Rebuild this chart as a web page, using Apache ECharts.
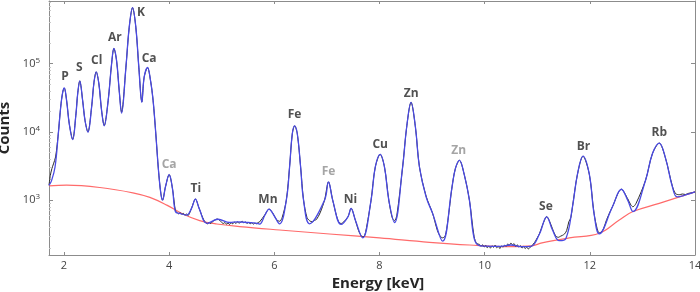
<!DOCTYPE html>
<html>
<head>
<meta charset="utf-8">
<script src="https://cdn.jsdelivr.net/npm/echarts@6/dist/echarts.min.js"></script>
<style>
  html, body { margin: 0; padding: 0; background: #fff; }
  #chart { width: 700px; height: 292px; }
</style>
</head>
<body>
<div id="chart"></div>
<script>
// axis range and ticks
const energyMin = 1.715;
const energyMax = 14;
const countsMin = 157;
const countsMax = 830000;
const xTicks = [2, 4, 6, 8, 10, 12, 14];
const yMinorTicks = [200, 300, 400, 500, 600, 700, 800, 900,
  2000, 3000, 4000, 5000, 6000, 7000, 8000, 9000,
  20000, 30000, 40000, 50000, 60000, 70000, 80000, 90000,
  200000, 300000, 400000, 500000, 600000, 700000, 800000];

// fitted spectrum [energy keV, counts]
const fitCurve = [
  [1.715, 1650], [1.76, 1900], [1.83, 3060], [1.892, 9400], [1.937, 23000], [1.975, 38000], [2.005, 44000],
  [2.05, 28800], [2.10, 13200], [2.165, 7700], [2.228, 18400], [2.26, 36000], [2.30, 56000], [2.355, 28800],
  [2.40, 14700], [2.455, 9900], [2.525, 23000], [2.57, 53000], [2.613, 76000], [2.664, 50500], [2.715, 20600],
  [2.765, 12300], [2.84, 28800], [2.905, 99000], [2.949, 167000], [3.0, 111000], [3.05, 40400], [3.095, 18800],
  [3.177, 87000], [3.24, 338000], [3.304, 664000], [3.367, 338000], [3.424, 87000], [3.481, 27200], [3.524, 63000],
  [3.589, 88000], [3.646, 56500], [3.695, 28800], [3.746, 9400], [3.797, 2740], [3.842, 1250], [3.874, 1000],
  [3.93, 1570], [4.0, 2370], [4.063, 1480], [4.12, 675], [4.20, 640], [4.33, 604], [4.425, 757], [4.50, 1035],
  [4.57, 757], [4.72, 457], [4.93, 525], [5.15, 470], [5.3, 480], [5.5, 470], [5.65, 460], [5.72, 445],
  [5.82, 600], [5.90, 740], [5.98, 620], [6.10, 450], [6.228, 1000], [6.29, 3060], [6.342, 9400], [6.386, 12300],
  [6.437, 9400], [6.50, 3060], [6.556, 1000], [6.67, 450], [6.955, 1000], [7.03, 1850], [7.11, 1000], [7.27, 440],
  [7.40, 570], [7.46, 757], [7.54, 511], [7.68, 280], [7.84, 1000], [7.92, 3060], [8.013, 4700], [8.095, 3060],
  [8.177, 1000], [8.285, 470], [8.44, 3060], [8.517, 11800], [8.60, 27200], [8.683, 11800], [8.76, 3060],
  [8.886, 1117], [9.01, 640], [9.2, 250], [9.38, 1570], [9.443, 2900], [9.52, 3840], [9.61, 2400], [9.71, 1000],
  [9.80, 275], [9.90, 215], [10.0, 212], [10.3, 210], [10.5, 220], [10.7, 208], [10.88, 210], [11.04, 317],
  [11.18, 570], [11.29, 365], [11.42, 255], [11.545, 275], [11.67, 798], [11.765, 2400], [11.87, 4430],
  [11.99, 2400], [12.08, 640], [12.18, 320], [12.43, 798], [12.60, 1445], [12.72, 1000], [12.82, 680],
  [13.06, 1960], [13.19, 4800], [13.32, 6870], [13.44, 4100], [13.57, 1570], [13.66, 1117], [13.82, 1190], [14.0, 1320]
];

// measured spectrum [energy keV, counts]
const measuredCurve = [
  [1.715, 1650], [1.74, 2300], [1.77, 2900], [1.80, 3400], [1.84, 4300], [1.87, 6500], [1.90, 11000], [1.937, 23000],
  [1.975, 38000], [2.005, 44000], [2.05, 28800], [2.10, 13200], [2.165, 7800], [2.228, 18400], [2.26, 36000],
  [2.30, 56000], [2.355, 28800], [2.40, 14700], [2.455, 10000], [2.525, 23000], [2.57, 53000], [2.613, 76000],
  [2.664, 50500], [2.715, 20600], [2.765, 12400], [2.84, 28800], [2.905, 99000], [2.949, 167000], [3.0, 111000],
  [3.05, 40400], [3.095, 19500], [3.177, 87000], [3.24, 338000], [3.304, 664000], [3.367, 338000], [3.424, 87000],
  [3.481, 27500], [3.524, 63000], [3.589, 88000], [3.646, 56500], [3.695, 28800], [3.746, 9400], [3.797, 2740],
  [3.842, 1250], [3.874, 1000], [3.93, 1570], [4.0, 2370], [4.063, 1480], [4.12, 690], [4.15, 660], [4.18, 630],
  [4.21, 655], [4.24, 620], [4.27, 640], [4.30, 600], [4.33, 625], [4.36, 595], [4.39, 650], [4.425, 760],
  [4.50, 1035], [4.57, 757], [4.62, 600], [4.66, 510], [4.70, 465], [4.73, 450], [4.76, 470], [4.79, 455],
  [4.82, 480], [4.85, 500], [4.88, 515], [4.91, 530], [4.94, 520], [4.97, 500], [5.00, 470], [5.03, 455],
  [5.06, 470], [5.09, 445], [5.12, 460], [5.15, 440], [5.18, 465], [5.21, 450], [5.24, 475], [5.27, 455],
  [5.30, 480], [5.33, 460], [5.36, 475], [5.39, 490], [5.42, 465], [5.45, 480], [5.48, 455], [5.51, 470],
  [5.54, 450], [5.57, 465], [5.60, 445], [5.63, 460], [5.66, 450], [5.69, 470], [5.72, 480], [5.82, 610],
  [5.90, 740], [5.98, 630], [6.04, 520], [6.10, 490], [6.15, 560], [6.228, 1000], [6.29, 3060], [6.342, 9400],
  [6.386, 12300], [6.437, 9400], [6.50, 3060], [6.556, 1000], [6.62, 560], [6.67, 500], [6.72, 480], [6.76, 505],
  [6.80, 520], [6.87, 650], [6.955, 1000], [7.03, 1850], [7.11, 1000], [7.18, 600], [7.23, 470], [7.27, 455],
  [7.32, 480], [7.40, 570], [7.46, 757], [7.54, 511], [7.60, 360], [7.65, 300], [7.68, 290], [7.72, 305],
  [7.78, 520], [7.84, 1000], [7.92, 3060], [8.013, 4700], [8.095, 3060], [8.177, 1000], [8.24, 560], [8.285, 500],
  [8.33, 600], [8.44, 3060], [8.517, 11800], [8.60, 27200], [8.683, 11800], [8.76, 3060], [8.886, 1150],
  [9.01, 640], [9.1, 360], [9.15, 300], [9.2, 280], [9.25, 300], [9.30, 500], [9.38, 1570], [9.443, 2900],
  [9.52, 3840], [9.61, 2400], [9.71, 1000], [9.80, 290], [9.85, 230], [9.90, 225], [9.93, 210], [9.96, 222],
  [9.99, 205], [10.02, 218], [10.05, 200], [10.08, 212], [10.11, 198], [10.14, 215], [10.17, 203], [10.20, 220],
  [10.23, 200], [10.26, 210], [10.29, 195], [10.32, 212], [10.35, 205], [10.38, 218], [10.41, 210], [10.44, 228],
  [10.47, 220], [10.50, 235], [10.53, 222], [10.56, 230], [10.59, 210], [10.62, 222], [10.65, 205], [10.68, 215],
  [10.71, 198], [10.74, 210], [10.77, 195], [10.80, 205], [10.83, 192], [10.86, 203], [10.89, 210], [10.92, 225],
  [10.95, 240], [11.0, 280], [11.04, 320], [11.08, 390], [11.12, 470], [11.18, 575], [11.23, 500], [11.29, 380],
  [11.35, 300], [11.40, 285], [11.44, 295], [11.48, 305], [11.52, 320], [11.56, 360], [11.60, 480], [11.64, 560],
  [11.67, 800], [11.765, 2400], [11.87, 4430], [11.99, 2400], [12.08, 640], [12.14, 380], [12.18, 330],
  [12.22, 345], [12.26, 380], [12.32, 520], [12.43, 800], [12.60, 1445], [12.72, 1050], [12.78, 850], [12.82, 800],
  [12.88, 900], [13.06, 1960], [13.19, 4800], [13.32, 6870], [13.44, 4100], [13.57, 1600], [13.63, 1250],
  [13.70, 1200], [13.76, 1230], [13.82, 1210], [13.88, 1260], [13.94, 1280], [14.0, 1320]
];

// background [energy keV, counts]
const backgroundCurve = [
  [1.715, 1620], [2.05, 1655], [2.683, 1531], [3.31, 1280], [3.633, 1096], [3.955, 845], [4.26, 625], [4.58, 501],
  [4.905, 447], [5.34, 410], [6.10, 365], [7.05, 319], [8.0, 279], [8.95, 241], [9.71, 220], [10.47, 208],
  [10.89, 213], [11.09, 236], [11.61, 279], [12.18, 327], [12.56, 511], [12.81, 675], [13.32, 896], [14.0, 1320]
];

// element labels
const peakNames = ['P', 'S', 'Cl', 'Ar', 'K', 'Ca', 'Ca', 'Ti', 'Mn', 'Fe', 'Fe', 'Ni', 'Cu', 'Zn', 'Zn', 'Se', 'Br', 'Rb'];
const peakEnergies = [2.019, 2.29, 2.621, 2.968, 3.462, 3.619, 4.0, 4.506, 5.879, 6.386, 7.031, 7.449, 8.013, 8.601, 9.505, 11.164, 11.878, 13.32];
const peakLabelCounts = [64600, 88300, 110600, 242000, 561000, 117000, 3360, 1480, 1023, 18000, 2590, 1023, 6580, 36100, 5370, 798, 6140, 9720];
const peakIsBeta = [false, false, false, false, false, false, true, false, false, false, true, false, false, false, true, false, false, false];

const frameColor = '#8c8c8c';
const labelFont = 'Open Sans';

const labelData = peakNames.map((name, i) => ({
  name,
  value: [peakEnergies[i], peakLabelCounts[i]],
  label: { color: peakIsBeta[i] ? '#8e8e8e' : '#262626' }
}));

const chart = echarts.init(document.getElementById('chart'), null, { renderer: 'canvas' });

const option = {
  animation: false,
  grid: { left: 49, right: 5, top: 1, bottom: 37, containLabel: false, outerBoundsMode: 'none' },
  xAxis: [
    {
      type: 'value',
      min: energyMin,
      max: energyMax,
      name: 'Energy [keV]',
      nameLocation: 'middle',
      nameGap: 14,
      nameTextStyle: { fontFamily: labelFont, fontWeight: 'bold', fontSize: 15, color: '#262626', padding: [0, 0, 0, 12] },
      axisLine: { show: true, lineStyle: { color: frameColor, width: 1 } },
      axisTick: { show: true, inside: true, length: 3, lineStyle: { color: frameColor }, customValues: xTicks },
      axisLabel: { margin: 5, fontFamily: labelFont, fontSize: 11, color: '#444', customValues: xTicks },
      splitLine: { show: false }
    },
    {
      type: 'value',
      position: 'top',
      min: energyMin,
      max: energyMax,
      axisLine: { show: true, lineStyle: { color: frameColor, width: 1 } },
      axisTick: { show: true, inside: true, length: 3, lineStyle: { color: frameColor }, customValues: xTicks },
      axisLabel: { show: false },
      splitLine: { show: false }
    }
  ],
  yAxis: [
    {
      type: 'log',
      logBase: 10,
      min: countsMin,
      max: countsMax,
      position: 'left',
      name: 'Counts',
      nameLocation: 'middle',
      nameGap: 30,
      nameTextStyle: { fontFamily: labelFont, fontWeight: 'bold', fontSize: 15, color: '#262626' },
      axisLine: { show: true, lineStyle: { color: frameColor, width: 1 } },
      axisTick: { show: true, inside: true, length: 4, lineStyle: { color: frameColor } },
      axisLabel: {
        margin: 9,
        formatter: (v) => {
          const p = Math.round(Math.log10(v));
          if (Math.abs(Math.log10(v) - p) > 1e-6) return '';
          return '{b|10}{s|' + p + '}';
        },
        rich: {
          b: { fontFamily: labelFont, fontSize: 11, color: '#444', lineHeight: 14 },
          s: { fontFamily: labelFont, fontSize: 8, color: '#444', verticalAlign: 'top', lineHeight: 10 }
        }
      },
      splitLine: { show: false }
    },
    {
      type: 'log',
      logBase: 10,
      min: countsMin,
      max: countsMax,
      position: 'right',
      axisLine: { show: true, lineStyle: { color: frameColor, width: 1 } },
      axisTick: { show: true, inside: true, length: 4, lineStyle: { color: frameColor } },
      axisLabel: { show: false },
      splitLine: { show: false }
    },
    {
      type: 'value',
      position: 'left',
      offset: 0,
      min: Math.log10(countsMin),
      max: Math.log10(countsMax),
      axisLine: { show: false },
      axisTick: { show: true, inside: true, length: 2, lineStyle: { color: '#c8c8c8' }, customValues: yMinorTicks.map(Math.log10) },
      axisLabel: { show: false },
      splitLine: { show: false }
    }
  ],
  series: [
    {
      name: 'background',
      type: 'line',
      data: backgroundCurve,
      smooth: 0.4,
      showSymbol: false,
      lineStyle: { color: '#ff6b6b', width: 1.2 },
      z: 2
    },
    {
      name: 'measured',
      type: 'line',
      data: measuredCurve,
      smooth: 0.3,
      showSymbol: false,
      lineStyle: { color: '#2a2a2a', width: 1 },
      z: 3
    },
    {
      name: 'fit',
      type: 'line',
      data: fitCurve,
      smooth: 0.4,
      showSymbol: false,
      lineStyle: { color: '#4a4ae4', width: 1.3 },
      z: 4
    },
    {
      name: 'labels',
      type: 'scatter',
      data: labelData,
      symbolSize: 1,
      itemStyle: { color: 'rgba(0,0,0,0)' },
      label: {
        show: true,
        position: 'inside',
        formatter: '{b}',
        fontFamily: labelFont,
        fontWeight: 'bold',
        fontSize: 12
      },
      z: 5
    }
  ]
};

chart.setOption(option);
</script>
</body>
</html>
